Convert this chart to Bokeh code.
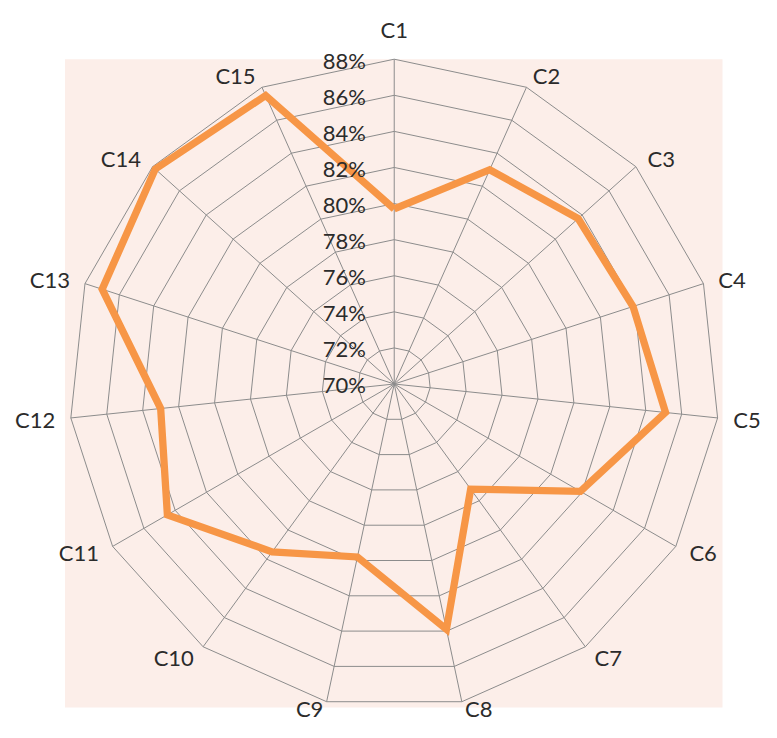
import numpy as np
from bokeh.plotting import figure
from bokeh.models import Range1d
from bokeh.embed import file_html
from bokeh.resources import INLINE
from bokeh.core.properties import value

# ---- data ----
categories = ["C1", "C2", "C3", "C4", "C5", "C6", "C7", "C8",
              "C9", "C10", "C11", "C12", "C13", "C14", "C15"]
values = [79.7, 83.0, 83.7, 83.9, 85.1, 81.9, 77.2, 83.9,
          79.8, 81.5, 84.5, 83.0, 87.0, 87.8, 87.5]
tick_values = [70, 72, 74, 76, 78, 80, 82, 84, 86, 88]
tick_labels = ["70%", "72%", "74%", "76%", "78%", "80%", "82%", "84%", "86%", "88%"]

# ---- geometry / style ----
R = 332.0
vmin, vmax = tick_values[0], tick_values[-1]
n = len(categories)
theta = np.arange(n) * 2 * np.pi / n
sx, cy = np.sin(theta), np.cos(theta)

def rad(v):
    return (np.asarray(v, dtype=float) - vmin) / (vmax - vmin) * R

FONT = value("Lato")
FSIZE = "22px"
TCOL = "#2b2b2b"
GRID = "#8c8c8c"
ORANGE = "#F79646"
PINK = "#FCEEE9"

W, H = 761, 722
Y_BOTTOM = -(738 - 392)
# chart laid out in a 777 x 738 design space, centred at (402, 392)
p = figure(width=W, height=H, output_backend="svg", toolbar_location=None,
           x_range=Range1d(-402, 777 - 402), y_range=Range1d(Y_BOTTOM, 392),
           x_axis_location=None, y_axis_location=None, min_border=0,
           background_fill_color="white", border_fill_color="white",
           outline_line_color=None)
p.grid.visible = False

# plot area background
xpad = R * np.max(np.abs(sx)) + 5
p.quad(left=-xpad - 1, right=xpad, top=R, bottom=-R * np.max(-cy) - 6,
       fill_color=PINK, line_color=None)

# rings
ring_xs, ring_ys = [], []
for t in tick_values[1:]:
    r = rad(t)
    ring_xs.append(list(np.append(r * sx, r * sx[0])))
    ring_ys.append(list(np.append(r * cy, r * cy[0])))
p.multi_line(ring_xs, ring_ys, line_color=GRID, line_width=1)

# spokes
p.multi_line([[0, R * a] for a in sx], [[0, R * b] for b in cy],
             line_color=GRID, line_width=1)

# series
rv = rad(values)
p.line(np.append(rv * sx, rv[0] * sx[0]), np.append(rv * cy, rv[0] * cy[0]),
       line_color=ORANGE, line_width=7.3, line_join="miter")

# radial tick labels
p.text(x=[-29] * len(tick_values), y=list(rad(tick_values) - 1), text=tick_labels,
       text_font=FONT, text_font_size=FSIZE, text_color=TCOL,
       text_align="right", text_baseline="middle")

# category labels
vx, vy = R * sx, R * cy
y_min_label = Y_BOTTOM + 14
left_i = [i for i in range(n) if sx[i] > 0.05]
right_i = [i for i in range(n) if sx[i] < -0.05]
mid_i = [i for i in range(n) if abs(sx[i]) <= 0.05]
for idx, align in ((left_i, "left"), (right_i, "right")):
    p.text(x=[vx[i] + 16 * sx[i] for i in idx],
           y=[max(vy[i] + 13 * cy[i], y_min_label) for i in idx],
           text=[categories[i] for i in idx],
           text_font=FONT, text_font_size=FSIZE, text_color=TCOL,
           text_align=align, text_baseline="middle")
p.text(x=[vx[i] for i in mid_i], y=[vy[i] + 30 * np.sign(cy[i]) for i in mid_i],
       text=[categories[i] for i in mid_i],
       text_font=FONT, text_font_size=FSIZE, text_color=TCOL,
       text_align="center", text_baseline="middle")

open("out.html", "w").write(file_html(p, INLINE))
